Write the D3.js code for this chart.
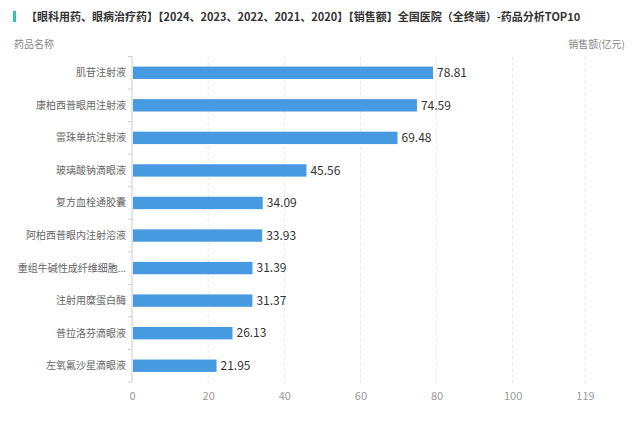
<!DOCTYPE html>
<head>
  <meta charset="utf-8" />
  <script src="https://d3js.org/d3.v7.min.js"></script>
  <style>
    body {
      margin: 0;
      background: #fff;
      font-family: "Noto Sans CJK SC", "Noto Sans", sans-serif;
    }
  </style>
</head>
<body>
  <script>
    // données
    var drugs = [
      "肌苷注射液",
      "康柏西普眼用注射液",
      "雷珠单抗注射液",
      "玻璃酸钠滴眼液",
      "复方血栓通胶囊",
      "阿柏西普眼内注射溶液",
      "重组牛碱性成纤维细胞...",
      "注射用糜蛋白酶",
      "普拉洛芬滴眼液",
      "左氧氟沙星滴眼液"
    ];
    var sales = [78.81, 74.59, 69.48, 45.56, 34.09, 33.93, 31.39, 31.37, 26.13, 21.95];
    var xTicks = [0, 20, 40, 60, 80, 100, 119];
    var title = "【眼科用药、眼病治疗药】【2024、2023、2022、2021、2020】【销售额】全国医院（全终端）-药品分析TOP10";

    var width = 640,
      height = 440;
    var margin = { top: 56.5, right: 55, bottom: 58, left: 132 };

    var svg = d3
      .select("body")
      .append("svg")
      .attr("width", width)
      .attr("height", height);

    // titre
    svg.append("rect")
      .attr("x", 13).attr("y", 11)
      .attr("width", 3).attr("height", 11)
      .attr("fill", "#2ec4b6");
    svg.append("text")
      .attr("x", 26).attr("y", 21)
      .attr("font-size", 11)
      .attr("font-weight", "bold")
      .attr("fill", "#333")
      .text(title);

    svg.append("text")
      .attr("x", 14).attr("y", 48)
      .attr("font-size", 10)
      .attr("fill", "#888")
      .text("药品名称");
    svg.append("text")
      .attr("x", 625).attr("y", 48)
      .attr("text-anchor", "end")
      .attr("font-size", 10)
      .attr("fill", "#888")
      .text("销售额(亿元)");

    var x = d3.scaleLinear()
      .domain([0, 119])
      .range([margin.left, width - margin.right]);

    var y = d3.scaleBand()
      .domain(drugs)
      .range([margin.top, height - margin.bottom])
      .paddingInner(0.62)
      .paddingOuter(0.31);

    // grille
    svg.append("g")
      .selectAll("line")
      .data(xTicks.slice(1))
      .join("line")
      .attr("x1", d => x(d)).attr("x2", d => x(d))
      .attr("y1", margin.top).attr("y2", height - margin.bottom + 4)
      .attr("stroke", "#e6e6e6")
      .attr("stroke-dasharray", "3,3");

    // axe x
    var xAxis = svg.append("g")
      .attr("transform", "translate(0," + (height - margin.bottom) + ")")
      .call(d3.axisBottom(x).tickValues(xTicks).tickSize(0).tickPadding(10));
    xAxis.select(".domain").remove();
    xAxis.selectAll("text")
      .attr("font-size", 11)
      .attr("fill", "#999")
      .attr("font-family", "Noto Sans CJK SC, sans-serif");

    // axe y
    var yTickPos = d3.range(drugs.length + 1).map(i => margin.top + i * y.step());
    svg.append("line")
      .attr("x1", margin.left).attr("x2", margin.left)
      .attr("y1", margin.top).attr("y2", height - margin.bottom)
      .attr("stroke", "#ccc");
    svg.append("g")
      .selectAll("line")
      .data(yTickPos)
      .join("line")
      .attr("x1", margin.left - 4).attr("x2", margin.left)
      .attr("y1", d => d).attr("y2", d => d)
      .attr("stroke", "#ccc");

    svg.append("g")
      .selectAll("text")
      .data(drugs)
      .join("text")
      .attr("x", margin.left - 6)
      .attr("y", d => y(d) + y.bandwidth() / 2)
      .attr("dy", "0.35em")
      .attr("text-anchor", "end")
      .attr("font-size", 10)
      .attr("fill", "#666")
      .text(d => d);

    // barres
    svg.append("g")
      .selectAll("rect")
      .data(sales)
      .join("rect")
      .attr("x", x(0) + 1)
      .attr("y", (d, i) => y(drugs[i]))
      .attr("width", d => x(d) - x(0))
      .attr("height", y.bandwidth())
      .attr("fill", "#4799e0");

    svg.append("g")
      .selectAll("text")
      .data(sales)
      .join("text")
      .attr("x", d => x(d) + 5)
      .attr("y", (d, i) => y(drugs[i]) + y.bandwidth() / 2)
      .attr("dy", "0.35em")
      .attr("font-size", 12)
      .attr("fill", "#333")
      .text(d => d.toFixed(2));
  </script>
</body>
